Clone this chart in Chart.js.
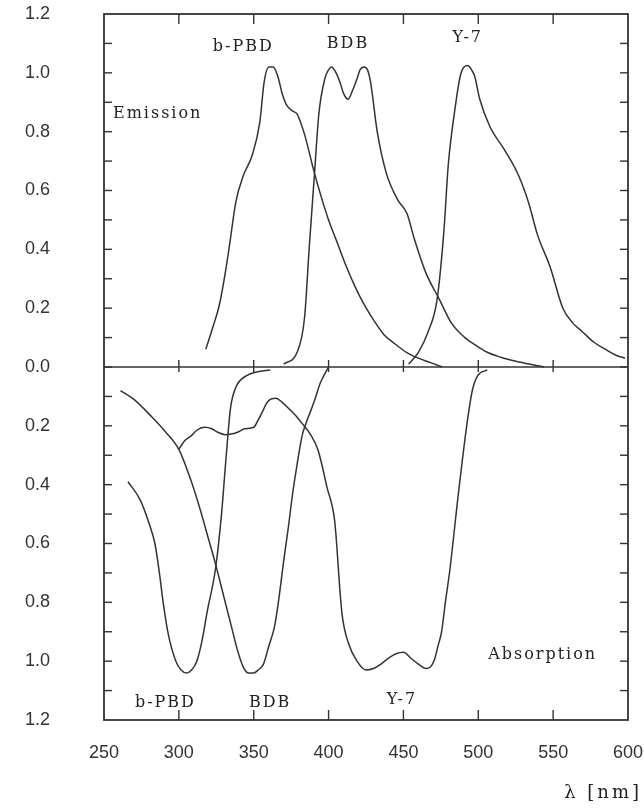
<!DOCTYPE html>
<html>
<head>
<meta charset="utf-8">
<script src="https://cdn.jsdelivr.net/npm/chart.js@4.4.1/dist/chart.umd.min.js"></script>
<style>
  html, body { margin: 0; padding: 0; background: #fff; }
</style>
</head>
<body>
<canvas id="spectra" width="644" height="808"></canvas>
<script>
// wavelengths in nm, intensities normalised (absorption drawn below the zero line)
const emPbdNm  = [318, 323, 327, 331, 334, 338, 343, 349, 354, 357, 360, 363, 366, 369, 372, 376, 379, 384, 390, 395, 400, 406, 412, 418, 424, 430, 437, 444, 452, 460, 468, 476];
const emPbdVal = [0.06, 0.14, 0.21, 0.32, 0.42, 0.56, 0.65, 0.72, 0.83, 0.97, 1.02, 1.02, 0.99, 0.93, 0.89, 0.87, 0.86, 0.79, 0.67, 0.58, 0.50, 0.42, 0.34, 0.27, 0.21, 0.16, 0.11, 0.08, 0.05, 0.03, 0.015, 0.0];

const emBdbNm  = [370, 379, 384, 387, 390.5, 393.5, 397.5, 400, 402, 405, 407.5, 410, 413, 416, 419, 421, 423.5, 426, 428, 432.5, 438.5, 446, 452.5, 457, 465, 474, 482, 491, 498, 506, 515, 523, 531, 538, 544];
const emBdbVal = [0.01, 0.05, 0.17, 0.40, 0.65, 0.86, 0.98, 1.01, 1.02, 1.0, 0.97, 0.93, 0.91, 0.94, 0.98, 1.01, 1.02, 1.01, 0.97, 0.80, 0.66, 0.57, 0.52, 0.44, 0.32, 0.23, 0.15, 0.10, 0.075, 0.05, 0.033, 0.022, 0.013, 0.006, 0.0];

const emY7Nm  = [453.5, 460, 466.5, 472.5, 477, 480, 484.5, 488, 490.5, 493, 495.5, 497.5, 501, 507.5, 518.5, 527, 533.5, 539.5, 548, 556.5, 563, 569.5, 577, 585, 592, 598];
const emY7Val = [0.01, 0.05, 0.12, 0.23, 0.46, 0.69, 0.88, 0.99, 1.02, 1.025, 1.01, 0.99, 0.91, 0.82, 0.73, 0.65, 0.56, 0.45, 0.34, 0.20, 0.15, 0.12, 0.085, 0.06, 0.04, 0.03];

const abPbdNm  = [266, 274, 280, 284, 287, 289.5, 293, 298, 301.5, 305, 308.5, 312, 315.5, 319, 324.5, 328.5, 331.5, 334.5, 338, 345, 352, 361];
const abPbdVal = [0.39, 0.45, 0.53, 0.60, 0.70, 0.80, 0.91, 1.0, 1.03, 1.04, 1.03, 1.0, 0.93, 0.83, 0.685, 0.50, 0.31, 0.14, 0.07, 0.03, 0.017, 0.01];

const abBdbNm  = [261, 270, 282, 291, 300, 307, 314, 319, 324.5, 330, 335, 339, 343, 346.5, 350, 353, 356.5, 360, 364, 367, 370, 373, 376, 379, 382.5, 385, 388, 391.5, 394, 396.5, 400];
const abBdbVal = [0.08, 0.11, 0.17, 0.22, 0.28, 0.37, 0.48, 0.57, 0.67, 0.78, 0.88, 0.96, 1.02, 1.04, 1.04, 1.03, 1.01, 0.95, 0.88, 0.78, 0.66, 0.55, 0.43, 0.33, 0.23, 0.19, 0.15, 0.10, 0.06, 0.033, 0.0];

const abY7Nm  = [300, 304, 308, 312, 317, 322, 326, 331, 335, 340, 344, 350, 353, 356, 359, 362, 365, 369, 374, 378, 382, 388, 393, 399, 404, 405.6, 407, 409, 413, 419, 425, 430, 435, 440, 445, 450, 455, 460, 465, 468, 471, 473, 475.5, 478, 481, 486.5, 492, 496, 499.5, 506];
const abY7Val = [0.28, 0.25, 0.235, 0.215, 0.205, 0.21, 0.222, 0.23, 0.228, 0.22, 0.21, 0.205, 0.18, 0.15, 0.12, 0.108, 0.106, 0.12, 0.144, 0.165, 0.19, 0.23, 0.283, 0.41, 0.52, 0.615, 0.72, 0.84, 0.935, 1.0, 1.03, 1.025, 1.01, 0.99, 0.975, 0.97, 0.99, 1.01, 1.025, 1.02, 0.99, 0.95, 0.9, 0.8, 0.69, 0.44, 0.21, 0.08, 0.03, 0.01];

const xTickValues = [250, 300, 350, 400, 450, 500, 550, 600];
const xInnerTicks = [300, 350, 400, 450, 500, 550];

// curve labels: [text, nm, value]
const curveLabels = [
  ['b-PBD', 343, 1.09], ['BDB', 413, 1.10], ['Y-7', 493, 1.12],
  ['b-PBD', 291, -1.14], ['BDB', 361, -1.14], ['Y-7', 449, -1.13]
];
const sideLabels = [['Emission', 256, 0.86, 'left'], ['Absorption', 543, -0.98, 'center']];

const ink = '#333';
const serif = '"DejaVu Serif", serif';

function toPoints(nm, val, sign) {
  return nm.map((x, i) => ({ x: x, y: sign * val[i] }));
}

function curve(nm, val, sign) {
  return {
    data: toPoints(nm, val, sign),
    showLine: true,
    borderColor: ink,
    borderWidth: 1.5,
    pointRadius: 0,
    cubicInterpolationMode: 'monotone',
    fill: false
  };
}

function line(ctx, x1, y1, x2, y2) {
  ctx.beginPath();
  ctx.moveTo(x1, y1);
  ctx.lineTo(x2, y2);
  ctx.stroke();
}

const frameTicks = {
  id: 'frameTicks',
  afterDatasetsDraw(chart) {
    const { ctx, chartArea: a, scales: { x, y } } = chart;
    ctx.save();
    ctx.strokeStyle = ink;
    ctx.lineWidth = 1.8;
    ctx.strokeRect(a.left, a.top, a.right - a.left, a.bottom - a.top);

    const y0 = y.getPixelForValue(0);
    ctx.lineWidth = 1.4;
    line(ctx, a.left, y0, a.right, y0);

    for (let i = -11; i <= 11; i++) {
      const py = y.getPixelForValue(i / 10);
      line(ctx, a.left, py, a.left + 8, py);
      line(ctx, a.right - 8, py, a.right, py);
    }
    xInnerTicks.forEach(v => {
      const px = x.getPixelForValue(v);
      line(ctx, px, a.top, px, a.top + 10);
      line(ctx, px, y0 - 7, px, y0 + 5);
      line(ctx, px, a.bottom - 10, px, a.bottom);
    });

    // text
    ctx.fillStyle = '#222';
    ctx.font = '16px ' + serif;
    ctx.letterSpacing = '2px';
    ctx.textBaseline = 'middle';
    curveLabels.forEach(([t, nm, v]) => {
      ctx.textAlign = 'center';
      ctx.fillText(t, x.getPixelForValue(nm), y.getPixelForValue(v));
    });
    sideLabels.forEach(([t, nm, v, align]) => {
      ctx.textAlign = align;
      ctx.fillText(t, x.getPixelForValue(nm), y.getPixelForValue(v));
    });
    ctx.font = '18px ' + serif;
    ctx.letterSpacing = '3px';
    ctx.textAlign = 'right';
    ctx.fillText('λ [nm]', chart.width - 2, 793);
    ctx.restore();
  }
};

new Chart(document.getElementById('spectra'), {
  type: 'scatter',
  data: {
    datasets: [
      curve(emPbdNm, emPbdVal, 1),
      curve(emBdbNm, emBdbVal, 1),
      curve(emY7Nm, emY7Val, 1),
      curve(abPbdNm, abPbdVal, -1),
      curve(abBdbNm, abBdbVal, -1),
      curve(abY7Nm, abY7Val, -1)
    ]
  },
  options: {
    responsive: false,
    animation: false,
    layout: { padding: { top: 14, right: 16, left: 0, bottom: 0 } },
    plugins: { legend: { display: false }, tooltip: { enabled: false } },
    scales: {
      x: {
        type: 'linear',
        min: 250,
        max: 600,
        afterBuildTicks: s => { s.ticks = xTickValues.map(v => ({ value: v })); },
        afterFit: s => { s.height = 88; s.paddingLeft = 0; s.paddingRight = 0; },
        grid: { display: false, drawTicks: false },
        border: { display: false },
        ticks: {
          padding: 22,
          color: '#333',
          font: { family: '"Liberation Sans", Arial, sans-serif', size: 18 },
          callback: v => String(v)
        }
      },
      y: {
        min: -1.2,
        max: 1.2,
        afterFit: s => { s.width = 104; s.paddingTop = 0; s.paddingBottom = 0; },
        grid: { display: false, drawTicks: false },
        border: { display: false },
        ticks: {
          stepSize: 0.2,
          padding: 54,
          color: '#333',
          font: { family: '"Liberation Sans", Arial, sans-serif', size: 18 },
          callback: v => Math.abs(v).toFixed(1)
        }
      }
    }
  },
  plugins: [frameTicks]
});
</script>
</body>
</html>
